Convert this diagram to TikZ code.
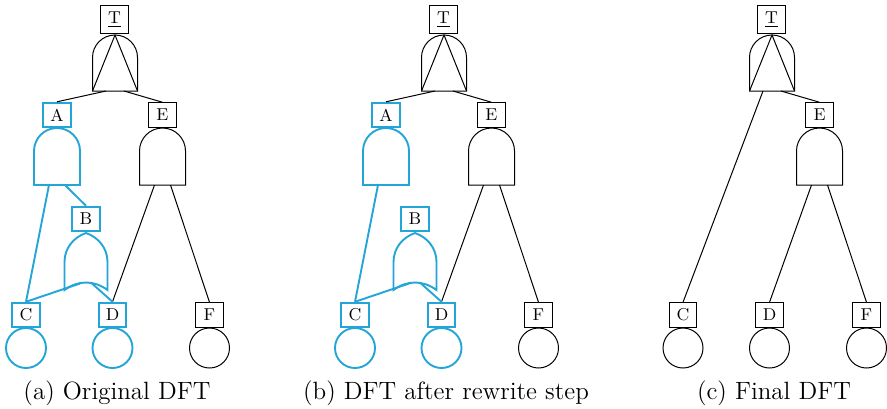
\documentclass[tikz,border=0pt]{standalone}
\usepackage{tikz}
\definecolor{dftblue}{RGB}{35,165,215}

\begin{document}
\begin{tikzpicture}[x=0.5pt,y=-0.5pt,
    blk/.style={black,line width=0.5pt},
    blu/.style={dftblue,line width=0.95pt},
    box/.style={draw,text=black,minimum width=13.75pt,minimum height=12.25pt,
      inner sep=0pt,font=\fontsize{8.6}{10}\selectfont},
    be/.style={draw,circle,minimum size=20pt,inner sep=0pt},
    subcap/.style={anchor=base,font=\fontsize{12.5}{14}\selectfont},
    andgate/.pic={
      \draw (-23,57) -- (-23,23) arc[start angle=180,end angle=0,radius=11.5pt]
        -- (23,57) -- cycle;
      \coordinate (-l) at (-8,57);
      \coordinate (-r) at (8,57);
    },
    pandgate/.pic={
      \draw (-22.5,56) -- (-22.5,22.5) arc[start angle=180,end angle=0,radius=11.25pt]
        -- (22.5,56) -- cycle;
      \draw (-22.5,56) -- (0,0) -- (22.5,56);
      \coordinate (-l) at (-9,56);
      \coordinate (-r) at (9,56);
    },
    orgate/.pic={
      \draw (-21.5,57) -- (-21.5,29) .. controls (-21.5,15.5) and (-12.8,4.4) .. (0,0)
        .. controls (12.8,4.4) and (21.5,15.5) .. (21.5,29) -- (21.5,57)
        .. controls (8,47) and (-8,47) .. (-21.5,57) -- cycle;
      \coordinate (-l) at (-6,50.5);
      \coordinate (-r) at (6,50.5);
    }]
  \useasboundingbox (0,0) rectangle (887,408);

  % parts shared by all three trees
  \foreach \p/\ox/\lc/\txt in {a/0/blu/{(a) Original DFT},
      b/329/blu/{(b) DFT after rewrite step},c/657/blk/{(c) Final DFT}} {
    \begin{scope}[shift={(\ox,0)}]
      \node[blk,box,minimum height=13.75pt] (\p-T) at (114.5,19.5) {\underline{T}};
      \pic[blk] (\p-Tg) at (115,35) {pandgate};
      \node[blk,box] (\p-E) at (162.5,115) {E};
      \pic[blk] (\p-Eg) at (162.5,128) {andgate};
      \node[\lc,box] (\p-C) at (26,315) {C};
      \node[\lc,be] (\p-Ce) at (26,348) {};
      \node[\lc,box] (\p-D) at (112.5,315) {D};
      \node[\lc,be] (\p-De) at (112.5,348) {};
      \node[blk,box] (\p-F) at (209.5,315) {F};
      \node[blk,be] (\p-Fe) at (209.5,348) {};
      \draw[blk] (\p-Tg-r) -- (\p-E.north);
      \draw[blk] (\p-Eg-l) -- (\p-D.north);
      \draw[blk] (\p-Eg-r) -- (\p-F.north);
      \node[subcap] (\p-cap) at (117,399) {\txt};
    \end{scope}
  }

  % gates A and B
  \foreach \p/\ox in {a/0,b/329} {
    \begin{scope}[shift={(\ox,0)}]
      \node[blu,box] (\p-A) at (57,115) {A};
      \pic[blu] (\p-Ag) at (57,128) {andgate};
      \node[blu,box] (\p-B) at (86,219) {B};
      \pic[blu] (\p-Bg) at (86,233) {orgate};
      \draw[blk] (\p-Tg-l) -- (\p-A.north);
      \draw[blu] (\p-Ag-l) -- (\p-C.north);
      \draw[blu] (\p-Bg-l) -- (\p-C.north);
      \draw[blu] (\p-Bg-r) -- (\p-D.north);
    \end{scope}
  }
  \draw[blu] (a-Ag-r) -- (a-B.north);
  \draw[blk] (c-Tg-l) -- (c-C.north);
\end{tikzpicture}
\end{document}
